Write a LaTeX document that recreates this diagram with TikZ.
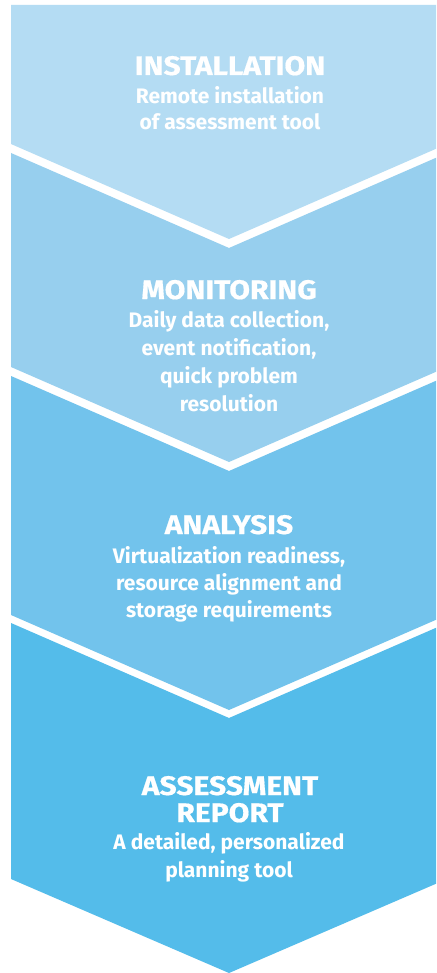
\documentclass[tikz,border=0pt]{standalone}
\usepackage{fontspec}
\setmainfont{Fira Sans}
\newfontfamily\stagetitlefont[BoldFeatures={FakeStretch=1.12,FakeBold=0.6}]{Fira Sans}
\definecolor{c1}{RGB}{180,220,243}
\definecolor{c2}{RGB}{151,207,238}
\definecolor{c3}{RGB}{114,195,236}
\definecolor{c4}{RGB}{84,188,234}
\begin{document}
\begin{tikzpicture}[x=1pt,y=-1pt,
  titletext/.style={anchor=base,inner sep=0pt,text=white,font=\stagetitlefont\fontsize{26.8}{30}\selectfont\bfseries},
  bodytext/.style={anchor=base,inner sep=0pt,text=white,font=\fontsize{21}{24}\selectfont\bfseries}]
\useasboundingbox (0,0) rectangle (436,973);
\clip (0,0) rectangle (436,973);
\fill[white] (0,0) rectangle (436,973);
% chevrons
\fill[c1] (11,5) -- (447,5) -- (447,144) -- (229,239) -- (11,144) -- cycle;
\fill[c2] (11,153) -- (229,248) -- (447,153) -- (447,367) -- (229,462) -- (11,367) -- cycle;
\fill[c3] (11,376) -- (229,471) -- (447,376) -- (447,615) -- (229,710) -- (11,615) -- cycle;
\fill[c4] (11,623) -- (229,718) -- (447,623) -- (447,879) -- (229,973) -- (11,879) -- cycle;
% stage 1
\node[titletext] (t1) at (230,75) {INSTALLATION};
\node[bodytext] (b1a) at (230,104) {Remote installation};
\node[bodytext] (b1b) at (230,130) {of assessment tool};
% stage 2
\node[titletext] (t2) at (229,299) {MONITORING};
\node[bodytext] (b2a) at (229,327) {Daily data collection,};
\node[bodytext] (b2b) at (229,355) {event notification,};
\node[bodytext] (b2c) at (229,383) {quick problem};
\node[bodytext] (b2d) at (229,411) {resolution};
% stage 3
\node[titletext] (t3) at (229,534) {ANALYSIS};
\node[bodytext] (b3a) at (229,563) {Virtualization readiness,};
\node[bodytext] (b3b) at (229,590) {resource alignment and};
\node[bodytext] (b3c) at (229,617) {storage requirements};
% stage 4
\node[titletext] (t4a) at (230,795) {ASSESSMENT};
\node[titletext] (t4b) at (230,822) {REPORT};
\node[bodytext] (b4a) at (229,849) {A detailed, personalized};
\node[bodytext] (b4b) at (229,877) {planning tool};
\end{tikzpicture}
\end{document}
